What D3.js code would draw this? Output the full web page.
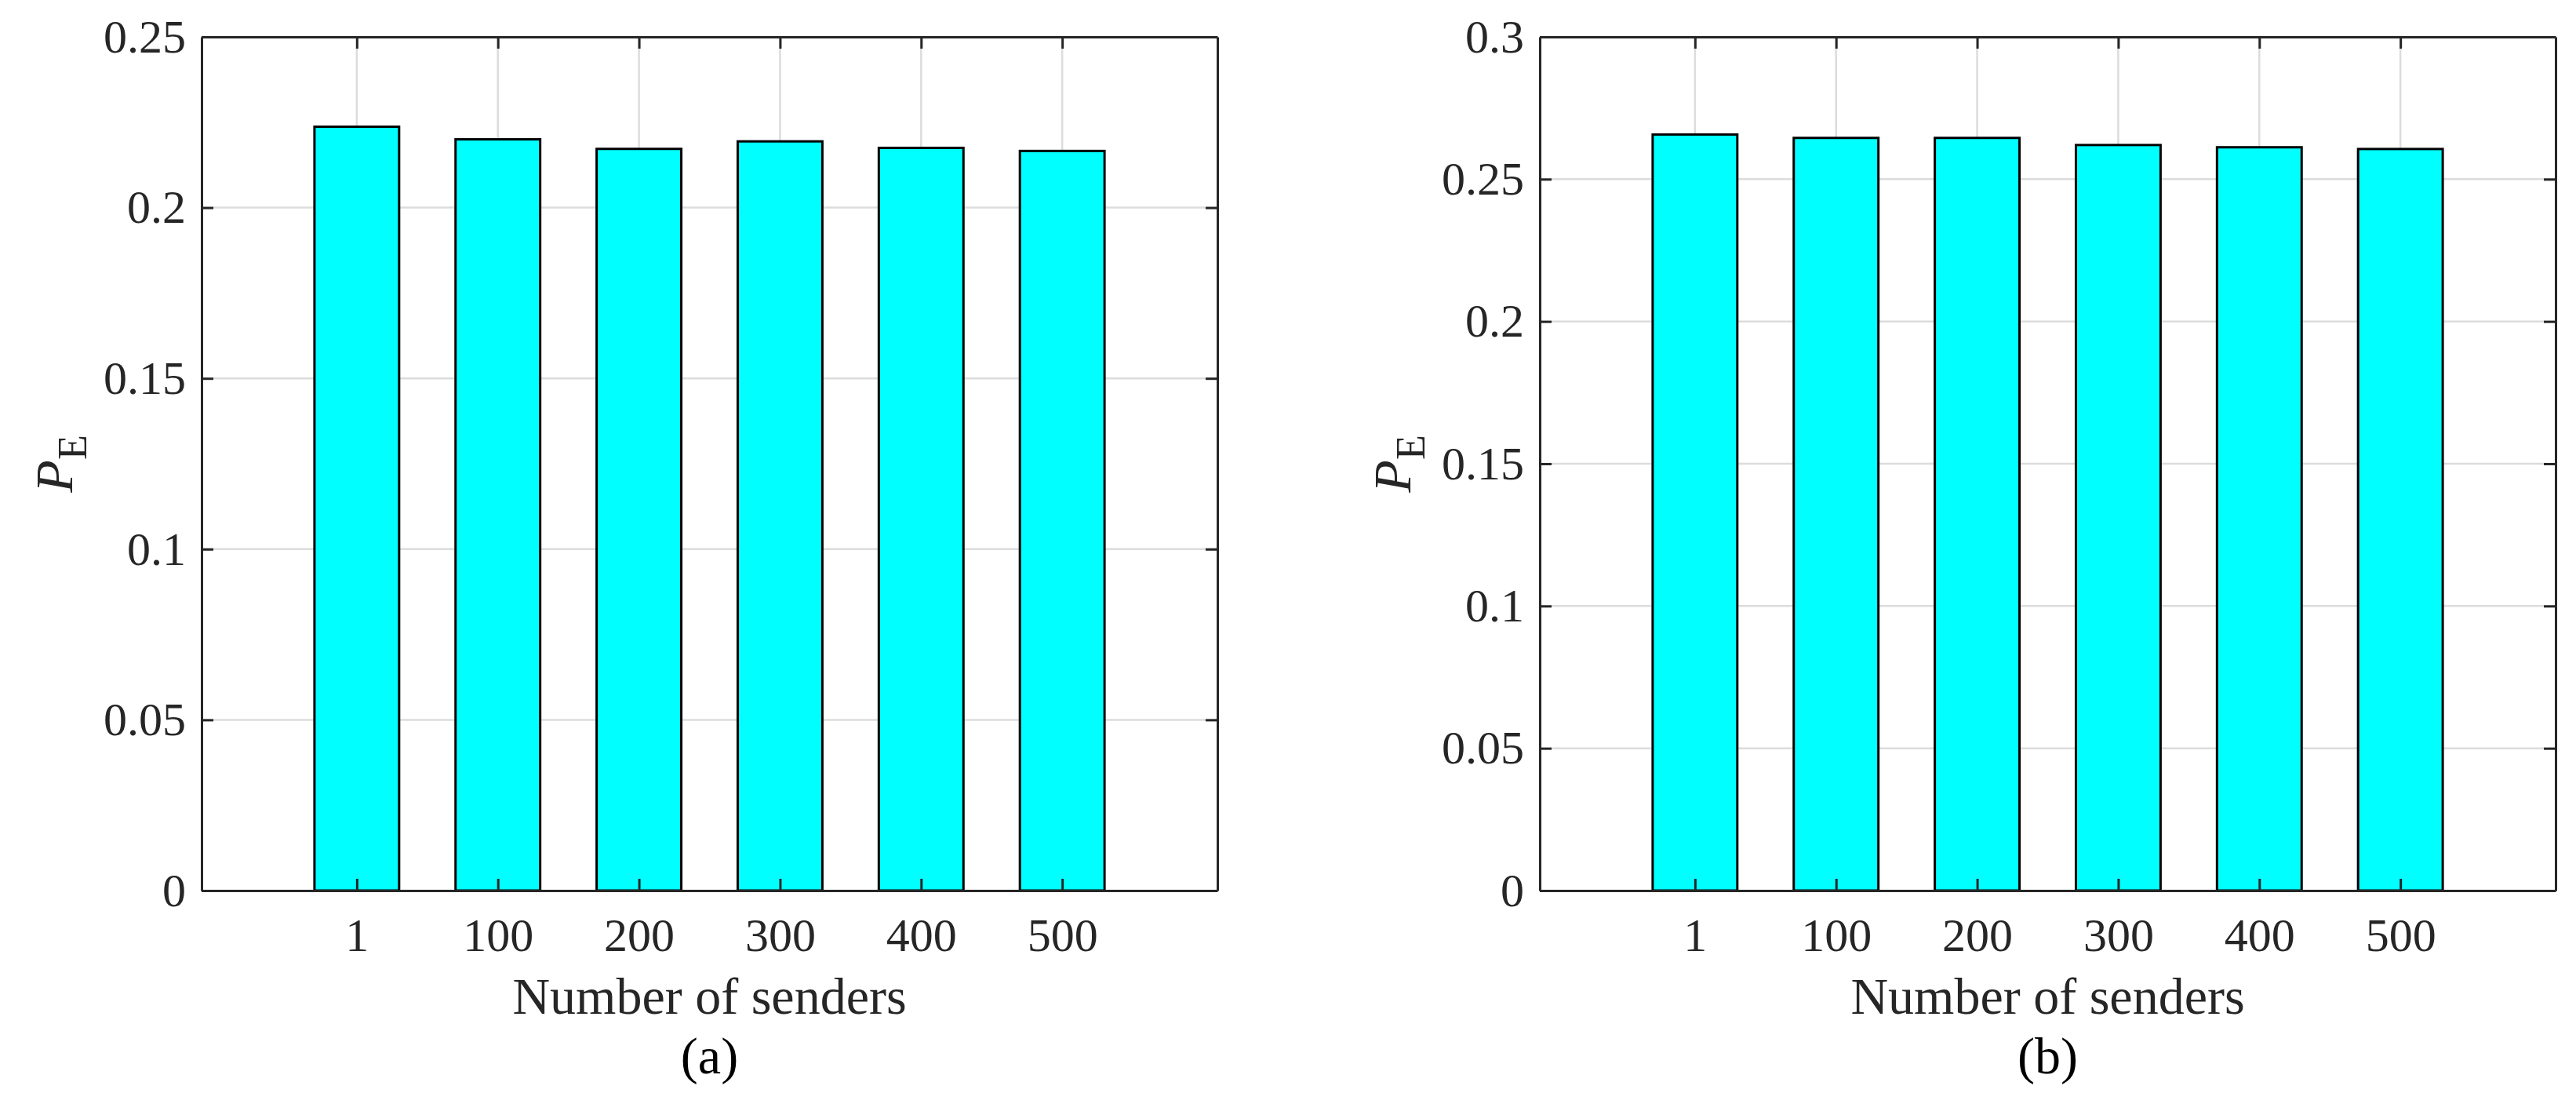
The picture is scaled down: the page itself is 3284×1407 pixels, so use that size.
<!DOCTYPE html>
<html><head><meta charset="utf-8">
<script src="https://d3js.org/d3.v7.min.js"></script>
<style>body{margin:0;background:#fff}</style>
</head><body>
<svg id="chart"></svg>
<script>
const categories = ["1", "100", "200", "300", "400", "500"];
const valuesA = [0.2237, 0.2200, 0.2172, 0.2194, 0.2175, 0.2166];
const valuesB = [0.2657, 0.2645, 0.2645, 0.2620, 0.2612, 0.2606];
const yTicksA = [0, 0.05, 0.1, 0.15, 0.2, 0.25];
const yTicksB = [0, 0.05, 0.1, 0.15, 0.2, 0.25, 0.3];

const svg = d3.select('#chart').attr('width', 3284).attr('height', 1407);
const font = "'Liberation Serif', 'Times New Roman', serif";

function panel(cfg, values, yTicks, ymax, caption) {
    const w = cfg.right - cfg.left, h = cfg.bottom - cfg.top;
    const g = svg.append('g').attr('transform', `translate(${cfg.left},${cfg.top})`);
    const x = d3.scaleLinear().domain([-0.1, 7.1]).range([0, w]);
    const y = d3.scaleLinear().domain([0, ymax]).range([h, 0]);

    // grid
    g.selectAll('.gy').data(yTicks).join('line')
        .attr('x1', 0).attr('x2', w).attr('y1', d => y(d)).attr('y2', d => y(d))
        .attr('stroke', '#dcdcdc').attr('stroke-width', 2.5);
    g.selectAll('.gx').data(categories).join('line')
        .attr('x1', (d, i) => x(i + 1)).attr('x2', (d, i) => x(i + 1))
        .attr('y1', 0).attr('y2', h)
        .attr('stroke', '#dcdcdc').attr('stroke-width', 2.5);

    // bars
    g.selectAll('rect.bar').data(values).join('rect')
        .attr('x', (d, i) => x(i + 1 - 0.3))
        .attr('width', x(0.6) - x(0))
        .attr('y', d => y(d))
        .attr('height', d => h - y(d))
        .attr('fill', '#00ffff').attr('stroke', '#000').attr('stroke-width', 3);

    // axes with inward ticks
    const ax = d3.axisBottom(x).tickValues([1, 2, 3, 4, 5, 6])
        .tickFormat(d => categories[d - 1]).tickSize(-15).tickPadding(34).tickSizeOuter(0);
    const ay = d3.axisLeft(y).tickValues(yTicks).tickFormat(d => d === 0 ? '0' : String(d))
        .tickSize(-15).tickPadding(20).tickSizeOuter(0);
    const axT = d3.axisTop(x).tickValues([1, 2, 3, 4, 5, 6]).tickFormat('').tickSize(-15).tickSizeOuter(0);
    const ayR = d3.axisRight(y).tickValues(yTicks).tickFormat('').tickSize(-15).tickSizeOuter(0);
    g.append('g').attr('transform', `translate(0,${h})`).call(ax);
    g.append('g').call(ay);
    g.append('g').call(axT);
    g.append('g').attr('transform', `translate(${w},0)`).call(ayR);
    g.selectAll('.domain').attr('stroke', '#262626').attr('stroke-width', 3);
    g.selectAll('.tick line').attr('stroke', '#262626').attr('stroke-width', 3);
    g.selectAll('.tick text').attr('font-family', font).attr('font-size', 60).attr('fill', '#262626');

    g.append('text').attr('x', w / 2).attr('y', h + 157)
        .attr('text-anchor', 'middle').attr('font-family', font).attr('font-size', 66)
        .attr('fill', '#262626').text('Number of senders');
    g.append('text').attr('x', w / 2).attr('y', h + 233)
        .attr('text-anchor', 'middle').attr('font-family', font).attr('font-size', 66)
        .attr('fill', '#000').text(caption);

    const yl = g.append('text')
        .attr('transform', `translate(${cfg.ylabX},${h / 2}) rotate(-90)`)
        .attr('text-anchor', 'middle').attr('font-family', font).attr('font-size', 68).attr('fill', '#262626');
    yl.append('tspan').attr('font-style', 'italic').text('P');
    yl.append('tspan').attr('dy', 18).attr('font-size', 52).text('E');
}

panel({left: 257, right: 1552, top: 47, bottom: 1135, ylabX: -165}, valuesA, yTicksA, 0.25, '(a)');
panel({left: 1963, right: 3258, top: 47, bottom: 1135, ylabX: -165}, valuesB, yTicksB, 0.3, '(b)');
</script>
</body></html>
